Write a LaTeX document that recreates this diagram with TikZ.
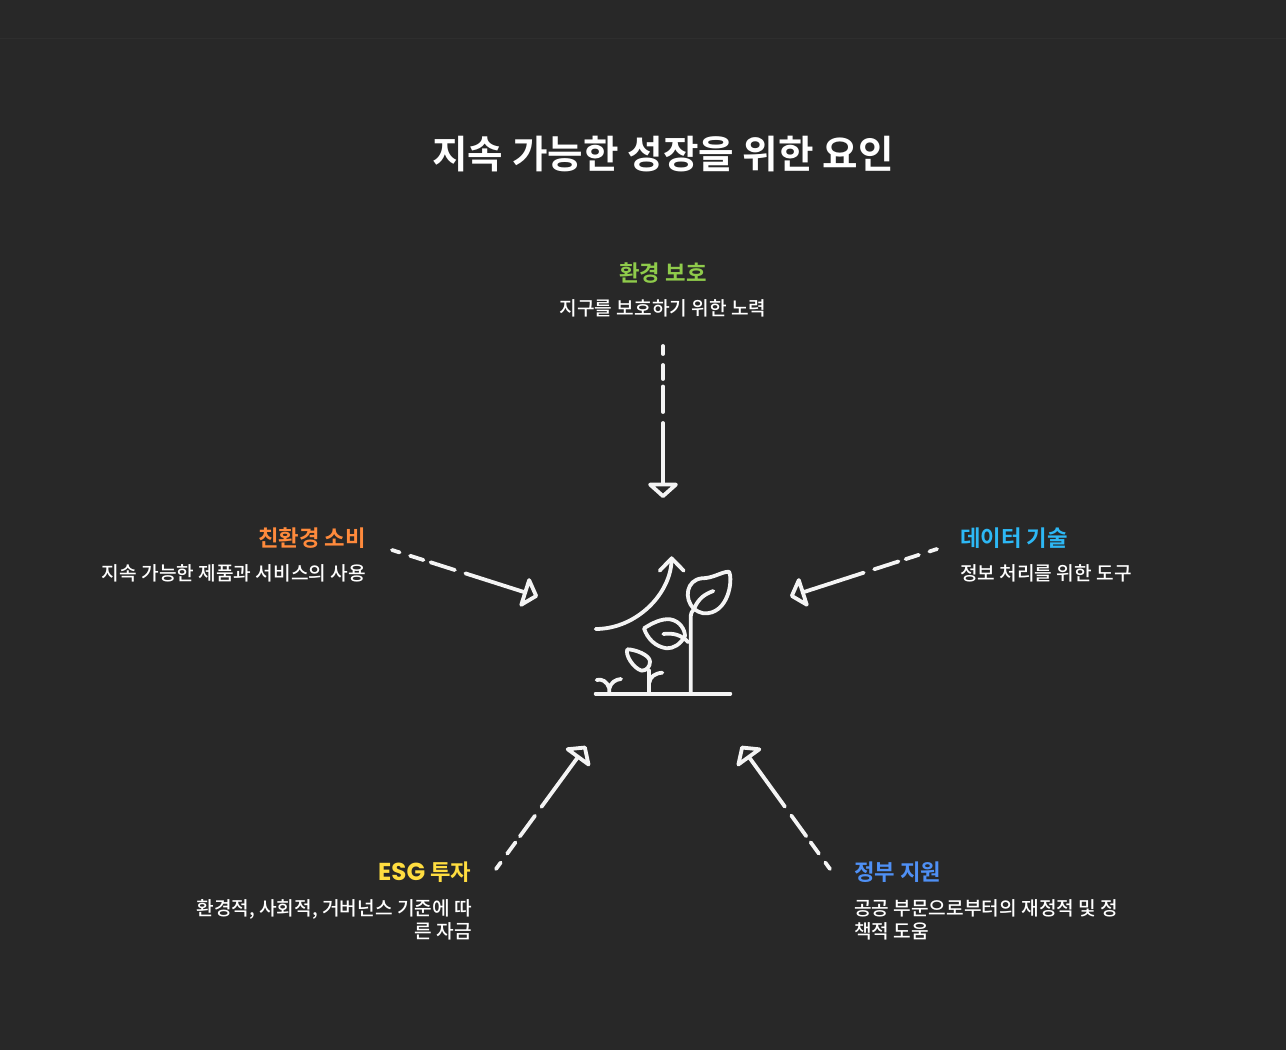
\documentclass[tikz,border=0pt]{standalone}
\usepackage{fontspec}
\setmainfont{Noto Sans CJK KR Medium}
\newfontfamily\kobold{Noto Sans CJK KR Bold}
\newfontfamily\esgfont{Poppins}
\usetikzlibrary{arrows.meta}
\definecolor{bgc}{HTML}{282828}
\definecolor{rulec}{HTML}{2E2E2E}
\definecolor{ink}{HTML}{F4F4F4}
\definecolor{cgreen}{HTML}{8FCB4B}
\definecolor{corange}{HTML}{FF8A3C}
\definecolor{cblue}{HTML}{2DB8F5}
\definecolor{cyellow}{HTML}{FFDD40}
\definecolor{cindigo}{HTML}{4F90F5}
\tikzset{
  head/.style={font=\kobold\fontsize{22.3}{26}\selectfont, inner sep=0pt},
  body/.style={font=\fontsize{19.15}{23}\selectfont, text=white, inner sep=0pt},
  flow/.style={draw=ink, line width=3.8pt, line cap=round,
    dash pattern=on 8pt off 11pt on 14pt off 7.5pt on 25.5pt off 11pt on 400pt,
    -{Triangle[open,length=16pt,width=35pt,round,fill=bgc]}},
  ic/.style={draw=ink, line width=3.8pt, line cap=round, line join=round}
}
\begin{document}
\begin{tikzpicture}[x=1pt,y=-1pt]
\useasboundingbox (0,0) rectangle (1286,1050);
\fill[bgc] (0,0) rectangle (1286,1050);
\draw[rulec,line width=1pt] (0,38) -- (1286,38);
\node[font=\kobold\fontsize{38.6}{44}\selectfont,text=white,inner sep=0pt,anchor=base] (title) at (663,168) {지속 가능한 성장을 위한 요인};
\node[head,text=cgreen,anchor=base] (h1) at (663,281) {환경 보호};
\node[body,anchor=base] (b1) at (663,315) {지구를 보호하기 위한 노력};
\node[head,text=corange,anchor=base east] (h2) at (366,546) {친환경 소비};
\node[body,anchor=base east] (b2) at (366,580) {지속 가능한 제품과 서비스의 사용};
\node[head,text=cblue,anchor=base west] (h3) at (960,546) {데이터 기술};
\node[body,anchor=base west] (b3) at (960,580) {정보 처리를 위한 도구};
\node[head,text=cyellow,anchor=base east] (h4) at (471.5,880) {{\esgfont\bfseries\fontsize{24.5}{26}\selectfont ESG} 투자};
\node[body,anchor=base east,align=right] (b4) at (472,938) {환경적, 사회적, 거버넌스 기준에 따\\른 자금};
\node[head,text=cindigo,anchor=base west] (h5) at (854,880) {정부 지원};
\node[body,anchor=base west,align=left] (b5) at (854,938) {공공 부문으로부터의 재정적 및 정\\책적 도움};
\coordinate (t1) at (663,346); \coordinate (e1) at (663,498);
\coordinate (t2) at (392,550); \coordinate (e2) at (538,596.5);
\coordinate (t3) at (937,549); \coordinate (e3) at (790,596.5);
\coordinate (t4) at (496,869); \coordinate (e4) at (586,746);
\coordinate (t5) at (830,869); \coordinate (e5) at (741,746);
\draw[flow] (t1) -- (e1);
\draw[flow] (t2) -- (e2);
\draw[flow] (t3) -- (e3);
\draw[flow] (t4) -- (e4);
\draw[flow] (t5) -- (e5);
\begin{scope}[shift={(570,530)},x=0.3333pt,y=-0.3333pt]
\draw[ic] (77,491) -- (481,491);
\draw[ic] (77,297) .. controls (200,297) and (305,190) .. (305,85);
\draw[ic] (269,122) -- (305,85) -- (341,122);
\draw[ic] (362,491) -- (362,265) .. controls (362,250) and (366,243) .. (372,237);
\draw[ic] (372,237) .. controls (340,205) and (350,150) .. (395,145) .. controls (430,145) and (455,125) .. (477,125) .. controls (490,150) and (475,255) .. (400,250) .. controls (390,248) and (380,243) .. (372,237);
\draw[ic] (372,237) .. controls (385,205) and (405,192) .. (430,183);
\draw[ic] (222,295) .. controls (245,280) and (275,265) .. (300,268) .. controls (330,272) and (345,300) .. (345,318) .. controls (330,345) and (310,355) .. (290,355) .. controls (255,350) and (232,325) .. (222,295);
\draw[ic] (280,312) .. controls (310,308) and (335,315) .. (355,337);
\draw[ic] (172,358) .. controls (195,358) and (240,375) .. (240,395) .. controls (240,410) and (230,422) .. (215,422) .. controls (190,415) and (165,375) .. (172,358);
\draw[ic] (238,491) -- (238,422);
\draw[ic] (238,458) .. controls (240,440) and (255,430) .. (277,428);
\draw[ic] (118,491) -- (118,475) .. controls (112,455) and (95,445) .. (80,450);
\draw[ic] (118,475) .. controls (122,458) and (137,448) .. (153,447);
\end{scope}
\end{tikzpicture}
\end{document}
